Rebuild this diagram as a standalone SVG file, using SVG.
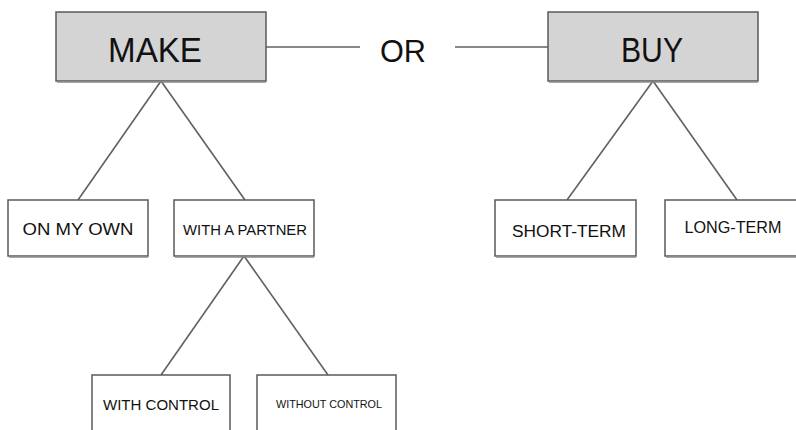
<svg xmlns="http://www.w3.org/2000/svg" width="796" height="430" viewBox="0 0 796 430">
<style>
.box{fill:#ffffff;stroke:#5a5a5a;stroke-width:1.5}
.top{fill:#d4d4d4;stroke:#5a5a5a;stroke-width:1.5}
.sh{fill:none;stroke:#8a8a8a;stroke-width:1.5}
.conn line{stroke:#606060;stroke-width:1.6}
text{font-family:"Liberation Sans",Arial,sans-serif;fill:#111;text-anchor:middle}
</style>
<rect width="796" height="430" fill="#ffffff"/>
<g class="conn" id="connectors">
<line x1="266" y1="47" x2="360" y2="47"/>
<line x1="455" y1="47" x2="548" y2="47"/>
<line x1="161" y1="81" x2="78" y2="200"/>
<line x1="161" y1="81" x2="245" y2="200"/>
<line x1="653" y1="81" x2="567" y2="200"/>
<line x1="653" y1="81" x2="737" y2="200"/>
<line x1="244" y1="256" x2="161" y2="375"/>
<line x1="244" y1="256" x2="328" y2="375"/>
</g>
<g id="or"><text x="403" y="62" font-size="31" textLength="46" lengthAdjust="spacingAndGlyphs">OR</text></g>
<g id="make">
<rect class="top" x="56" y="12" width="210" height="69"/>
<line class="sh" x1="57" y1="82" x2="266" y2="82"/>
<text x="155" y="62" font-size="35" textLength="94" lengthAdjust="spacingAndGlyphs">MAKE</text>
</g>
<g id="buy">
<rect class="top" x="548" y="12" width="210" height="69"/>
<line class="sh" x1="549" y1="82" x2="758" y2="82"/>
<text x="652" y="62" font-size="35" textLength="62" lengthAdjust="spacingAndGlyphs">BUY</text>
</g>
<g id="on-my-own">
<rect class="box" x="8" y="200" width="140" height="56"/>
<line class="sh" x1="9" y1="257" x2="148" y2="257"/>
<text x="78" y="235" font-size="17" textLength="111" lengthAdjust="spacingAndGlyphs">ON MY OWN</text>
</g>
<g id="with-a-partner">
<rect class="box" x="174" y="200" width="140" height="56"/>
<line class="sh" x1="175" y1="257" x2="314" y2="257"/>
<text x="245" y="235" font-size="14.5" textLength="124" lengthAdjust="spacingAndGlyphs">WITH A PARTNER</text>
</g>
<g id="short-term">
<rect class="box" x="495" y="200" width="141" height="56"/>
<line class="sh" x1="496" y1="257" x2="636" y2="257"/>
<text x="569" y="237" font-size="16" textLength="114" lengthAdjust="spacingAndGlyphs">SHORT-TERM</text>
</g>
<g id="long-term">
<rect class="box" x="665" y="200" width="140" height="56"/>
<line class="sh" x1="666" y1="257" x2="800" y2="257"/>
<text x="733" y="233" font-size="16" textLength="97" lengthAdjust="spacingAndGlyphs">LONG-TERM</text>
</g>
<g id="with-control">
<rect class="box" x="92" y="375" width="138" height="70"/>
<text x="161" y="410" font-size="15" textLength="116" lengthAdjust="spacingAndGlyphs">WITH CONTROL</text>
</g>
<g id="without-control">
<rect class="box" x="257" y="375" width="139" height="70"/>
<text x="329" y="408" font-size="11" textLength="106" lengthAdjust="spacingAndGlyphs">WITHOUT CONTROL</text>
</g>
</svg>
